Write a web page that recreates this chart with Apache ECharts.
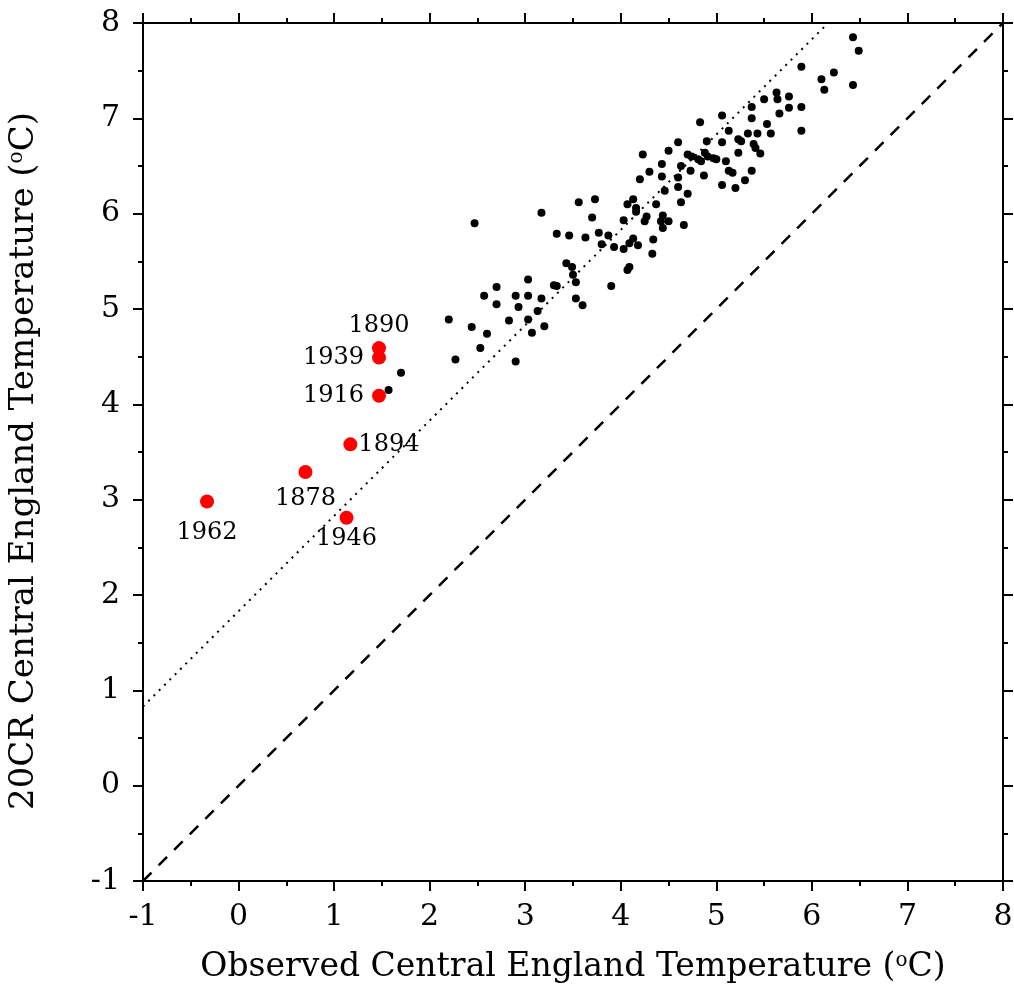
<!DOCTYPE html>
<html>
<head>
<meta charset="utf-8">
<script src="https://cdn.jsdelivr.net/npm/echarts@6/dist/echarts.min.js"></script>
<style>
html,body{margin:0;padding:0;background:#fff;}
#chart{width:1014px;height:986px;}
</style>
</head>
<body>
<div id="chart"></div>
<script>
// Black points: observed CET (x) vs 20CR CET (y)
const obsX = [2.47,3.17,3.56,3.73,3.70,4.03,4.07,4.13,4.16,4.16,
  3.33,3.46,3.63,3.77,3.87,3.80,3.93,4.03,4.13,4.18,4.09,
  4.09,4.07,3.43,3.49,3.50,3.53,3.30,3.33,3.90,3.03,2.70,2.57,2.70,
  2.90,3.03,3.17,2.93,3.13,3.53,3.60,2.20,2.44,2.60,2.83,3.03,3.07,3.20,
  2.53,2.27,2.90,1.57,1.70,
  5.50,5.63,5.64,5.76,5.89,5.76,5.66,5.89,5.37,5.37,5.06,4.83,5.53,5.57,
  5.33,5.43,5.13,5.06,4.90,5.23,5.26,5.39,5.41,5.46,5.23,5.10,5.13,5.17,
  5.37,5.30,5.06,5.20,4.87,4.88,4.91,4.97,5.00,4.84,4.81,4.70,4.74,4.60,
  4.50,4.23,4.43,4.30,4.20,4.43,4.63,4.73,4.60,4.46,4.60,4.70,4.63,4.37,
  4.27,4.25,4.44,4.42,4.50,4.44,4.66,4.34,4.33,
  6.43,6.49,6.23,6.10,6.13,6.43,5.89];
const reanY = [5.90,6.01,6.12,6.15,5.96,5.93,6.10,6.15,6.06,6.02,
  5.79,5.77,5.75,5.80,5.77,5.68,5.65,5.63,5.74,5.67,5.69,
  5.44,5.41,5.48,5.44,5.36,5.28,5.25,5.24,5.24,5.31,5.23,5.14,5.05,
  5.14,5.14,5.11,5.02,4.98,5.11,5.04,4.89,4.81,4.74,4.88,4.89,4.75,4.82,
  4.59,4.47,4.45,4.15,4.33,
  7.20,7.27,7.20,7.23,7.12,7.11,7.05,6.87,7.12,7.00,7.03,6.96,6.94,6.84,
  6.84,6.84,6.87,6.75,6.76,6.78,6.76,6.73,6.69,6.63,6.64,6.55,6.45,6.43,
  6.45,6.35,6.30,6.27,6.40,6.64,6.60,6.58,6.57,6.55,6.57,6.62,6.60,6.75,
  6.66,6.62,6.52,6.44,6.36,6.39,6.50,6.45,6.38,6.24,6.28,6.21,6.12,6.10,
  5.97,5.92,5.98,5.92,5.92,5.85,5.88,5.73,5.58,
  7.85,7.71,7.48,7.41,7.30,7.35,7.54];

// Highlighted years (red)
const redYears = ['1890','1939','1916','1894','1878','1962','1946'];
const redX = [1.47,1.47,1.47,1.17,0.70,-0.33,1.13];
const redY = [4.59,4.49,4.09,3.58,3.29,2.98,2.81];

// Reference lines
const diagX = [-1, 8];
const diagY = [-1, 8];
const fitX = [-1, 6.17];
const fitY = [0.83, 8.0];

// Axis range
const axisMin = -1, axisMax = 8, axisStep = 1;

// label placement (style, not data)
const labelPlace = {
  '1890': {position: 'top', distance: 3},
  '1939': {position: 'left', distance: 8},
  '1916': {position: 'left', distance: 8},
  '1894': {position: 'right', distance: 1},
  '1878': {position: 'bottom', distance: 8},
  '1962': {position: 'bottom', distance: 12},
  '1946': {position: 'bottom', distance: 2}
};

const FONT = 'DejaVu Serif';
const chart = echarts.init(document.getElementById('chart'), null, {renderer: 'canvas'});

function axisCommon(showLabel) {
  return {
    type: 'value', min: axisMin, max: axisMax, interval: axisStep,
    axisLine: {show: true, onZero: false, lineStyle: {color: '#000', width: 2}},
    axisTick: {show: true, inside: false, length: 10, lineStyle: {color: '#000', width: 2}},
    minorTick: {show: true, splitNumber: 2, length: 5, lineStyle: {color: '#000', width: 2}},
    splitLine: {show: false},
    axisLabel: {show: showLabel, fontFamily: FONT, fontSize: 30, color: '#000'}
  };
}

const xBottom = Object.assign(axisCommon(true), {
  position: 'bottom',
  name: 'Observed Central England Temperature ({sup|o}C)',
  nameLocation: 'middle', nameGap: 70,
  nameTextStyle: {fontFamily: FONT, fontSize: 33, color: '#000',
    rich: {sup: {fontFamily: FONT, fontSize: 20, color: '#000', verticalAlign: 'top'}}}
});
xBottom.axisLabel.margin = 21;
const xTop = Object.assign(axisCommon(false), {position: 'top'});
const yLeft = Object.assign(axisCommon(true), {
  position: 'left',
  name: '20CR Central England Temperature ({sup|o}C)',
  nameLocation: 'middle', nameGap: 102,
  nameTextStyle: {fontFamily: FONT, fontSize: 34, color: '#000', padding: [0, 18, 0, 0],
    rich: {sup: {fontFamily: FONT, fontSize: 20, color: '#000', verticalAlign: 'top'}}}
});
yLeft.axisLabel.margin = 23;
const yRight = Object.assign(axisCommon(false), {position: 'right'});

const black = obsX.map((x, i) => [x, reanY[i]]);
const red = redX.map((x, i) => ({
  value: [x, redY[i]],
  name: redYears[i],
  label: {show: true, formatter: redYears[i],
    position: labelPlace[redYears[i]].position,
    distance: labelPlace[redYears[i]].distance,
    fontFamily: FONT, fontSize: 24, color: '#000'}
}));

chart.setOption({
  backgroundColor: '#fff',
  animation: false,
  grid: {left: 143, right: 11, top: 23, bottom: 105, outerBoundsMode: 'none', containLabel: false},
  xAxis: [xBottom, xTop],
  yAxis: [yLeft, yRight],
  series: [
    {type: 'line', xAxisIndex: 0, yAxisIndex: 0, data: diagX.map((x, i) => [x, diagY[i]]),
     symbol: 'none', lineStyle: {color: '#000', width: 2.5, type: [12, 10]}, silent: true},
    {type: 'line', xAxisIndex: 0, yAxisIndex: 0, data: fitX.map((x, i) => [x, fitY[i]]),
     symbol: 'none', lineStyle: {color: '#000', width: 2, type: [2, 5.5]}, silent: true},
    {type: 'scatter', xAxisIndex: 0, yAxisIndex: 0, data: black, symbolSize: 8,
     itemStyle: {color: '#000', opacity: 1}},
    {type: 'scatter', xAxisIndex: 0, yAxisIndex: 0, data: red, symbolSize: 14,
     itemStyle: {color: '#ff0000', opacity: 1}, z: 5}
  ]
});
</script>
</body>
</html>
